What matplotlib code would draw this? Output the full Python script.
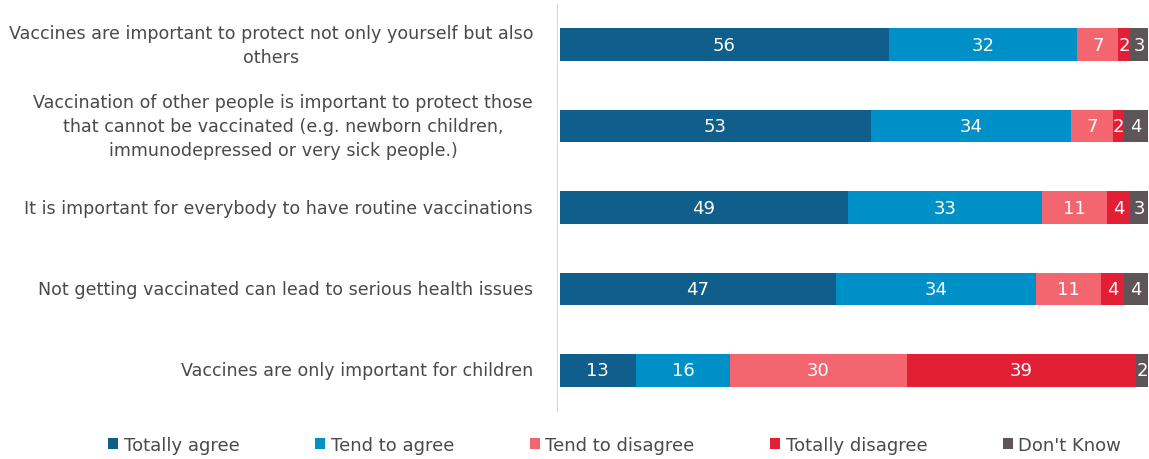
import numpy as np
import matplotlib.pyplot as plt
from matplotlib.patches import Patch
from matplotlib.transforms import blended_transform_factory

statements = ['Vaccines are important to protect not only yourself but also\nothers',
              'Vaccination of other people is important to protect those\nthat cannot be vaccinated (e.g. newborn children,\nimmunodepressed or very sick people.)',
              'It is important for everybody to have routine vaccinations',
              'Not getting vaccinated can lead to serious health issues',
              'Vaccines are only important for children']
series = ['Totally agree', 'Tend to agree', 'Tend to disagree', 'Totally disagree', "Don't Know"]
totally_agree = [56, 53, 49, 47, 13]
tend_agree = [32, 34, 33, 34, 16]
tend_disagree = [7, 7, 11, 11, 30]
totally_disagree = [2, 2, 4, 4, 39]
dont_know = [3, 4, 3, 4, 2]

values = [totally_agree, tend_agree, tend_disagree, totally_disagree, dont_know]
colors = ['#0F5E8C', '#0090C8', '#F4666F', '#E31F36', '#5D5558']
text_color = '#4A4A4A'

fig = plt.figure(figsize=(11.49, 4.6), dpi=100)
ax = fig.add_axes([0.487, 0.104, 0.512, 0.885])

y = np.arange(len(statements))
left = np.zeros(len(statements))
for vals, col in zip(values, colors):
    vals = np.array(vals, dtype=float)
    bars = ax.barh(y, vals, left=left, height=0.4, color=col)
    ax.bar_label(bars, labels=[str(int(v)) for v in vals], label_type='center',
                 color='white', fontsize=13)
    left += vals

ax.set_xlim(0, 100)
ax.set_ylim(4.5, -0.5)
ax.set_yticks([])
ax.set_xticks([])

# category labels, centred lines, right edge near the axis
trans = blended_transform_factory(ax.transAxes, ax.transData)
for yi, txt in zip(y, statements):
    ax.text(-0.045, yi, txt, transform=trans, ha='right', va='center',
            multialignment='center', linespacing=1.45, fontsize=12.6, color=text_color)

for s in ['top', 'right', 'bottom']:
    ax.spines[s].set_visible(False)
ax.spines['left'].set_color('#D9D9D9')
ax.spines['left'].set_position(('outward', 2))

handles = [Patch(facecolor=c, edgecolor='none') for c in colors]
leg = fig.legend(handles, series, loc='lower center', bbox_to_anchor=(0.535, -0.025), ncol=5,
                 frameon=False, fontsize=13, handlelength=0.55, handleheight=0.55,
                 handletextpad=0.3, columnspacing=4.2)
for t in leg.get_texts():
    t.set_color(text_color)

plt.savefig('out.png', dpi=100)
